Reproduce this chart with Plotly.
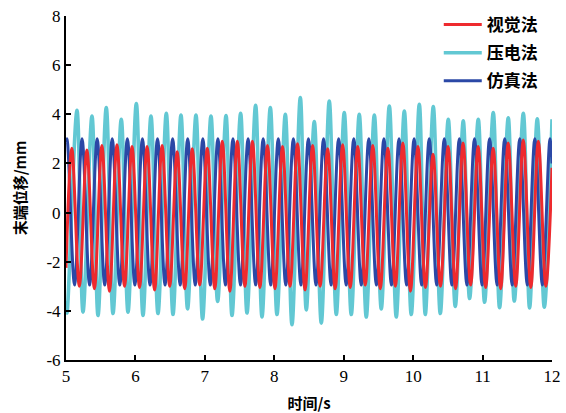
import plotly.graph_objects as go

# ---------------- data ----------------
# 仿真法 (simulation): extreme points (peaks/troughs) of the curve
sim_t = [5.000, 5.014, 5.123, 5.231, 5.340, 5.449, 5.558, 5.666, 5.775, 5.884, 5.992,
         6.101, 6.210, 6.318, 6.427, 6.536, 6.645, 6.753, 6.862, 6.971, 7.079,
         7.188, 7.297, 7.405, 7.514, 7.623, 7.732, 7.840, 7.949, 8.058, 8.166,
         8.275, 8.384, 8.492, 8.601, 8.710, 8.819, 8.927, 9.036, 9.145, 9.253,
         9.362, 9.471, 9.579, 9.688, 9.797, 9.906, 10.014, 10.123, 10.232, 10.340,
         10.449, 10.558, 10.666, 10.775, 10.884, 10.993, 11.101, 11.210, 11.319, 11.427,
         11.536, 11.645, 11.753, 11.862, 11.971, 12.000]
sim_y = [2.85] + [3.0, -2.95] * 32 + [3.0, 2.0]

# 视觉法 (vision): extreme points
vis_t = [5.000, 5.084, 5.192, 5.301, 5.409, 5.517, 5.626, 5.734, 5.843, 5.951, 6.059,
         6.168, 6.276, 6.384, 6.493, 6.601, 6.710, 6.818, 6.926, 7.035, 7.143,
         7.251, 7.360, 7.468, 7.577, 7.685, 7.793, 7.902, 8.010, 8.118, 8.227,
         8.335, 8.443, 8.552, 8.660, 8.769, 8.877, 8.985, 9.094, 9.202, 9.310,
         9.419, 9.527, 9.636, 9.744, 9.852, 9.961, 10.069, 10.177, 10.286, 10.394,
         10.503, 10.611, 10.719, 10.828, 10.936, 11.044, 11.153, 11.261, 11.369, 11.478,
         11.586, 11.695, 11.803, 11.911, 12.000]
vis_peaks = [2.62, 2.55, 2.73, 2.76, 2.69, 2.69, 2.73, 2.48, 2.60, 2.62, 2.90,
             2.90, 2.90, 2.73, 2.69, 2.80, 2.73, 2.60, 2.76, 2.69, 2.73, 2.62,
             2.83, 2.69, 2.37, 2.69, 2.83, 2.69, 2.62, 2.83, 2.95, 2.90]
vis_troughs = [-3.00, -3.10, -3.20, -3.00, -3.05, -3.15, -3.00, -3.10, -2.95, -3.10, -3.20,
               -3.00, -3.05, -3.10, -3.00, -3.15, -3.00, -3.10, -3.05, -2.95, -3.10, -3.00,
               -3.20, -3.05, -3.00, -3.10, -2.95, -3.05, -3.10, -3.00, -3.05, -3.00]
vis_start = -2.25
vis_end = 1.82

# 压电法 (piezoelectric): extreme points
pz_trough_t = [5.014, 5.245, 5.461, 5.677, 5.893, 6.109, 6.325, 6.541, 6.751, 6.967, 7.184,
               7.391, 7.607, 7.823, 8.039, 8.255, 8.461, 8.677, 8.893, 9.109, 9.325,
               9.541, 9.757, 9.973, 10.175, 10.391, 10.607, 10.813, 11.029, 11.245, 11.457,
               11.677, 11.889]
pz_trough_y = [-4.09, -4.05, -4.19, -4.11, -4.05, -4.19, -4.11, -4.15, -3.92, -4.33, -3.62,
               -4.19, -4.09, -4.25, -4.15, -4.56, -3.96, -4.50, -4.15, -4.15, -4.25,
               -3.92, -4.25, -4.15, -4.15, -4.11, -3.82, -3.50, -3.65, -3.87, -3.60,
               -3.88, -3.85]
pz_peak_t = [5.158, 5.374, 5.580, 5.796, 6.013, 6.224, 6.445, 6.656, 6.872, 7.088, 7.305,
             7.515, 7.731, 7.943, 8.159, 8.375, 8.576, 8.792, 9.008, 9.224, 9.441,
             9.657, 9.873, 10.089, 10.290, 10.506, 10.722, 10.938, 11.154, 11.370, 11.587,
             11.788]
pz_peak_y = [4.16, 3.93, 4.27, 3.80, 4.44, 3.93, 4.04, 3.97, 3.97, 3.93, 3.95,
             4.04, 4.37, 4.27, 4.00, 4.68, 3.70, 4.54, 4.07, 4.00, 3.97,
             4.34, 4.13, 4.41, 4.31, 3.80, 3.73, 3.80, 4.07, 3.86, 4.04,
             3.82]
pz_start = -3.6
pz_end = 3.8

x_ticks = [5, 6, 7, 8, 9, 10, 11, 12]
x_tick_text = ["5", "6", "7", "8", "9", "10", "11", "12"]
y_ticks = [-6, -4, -2, 0, 2, 4, 6, 8]
y_tick_text = ["-6", "-4", "-2", "0", "2", "4", "6", "8"]

names = ["视觉法", "压电法", "仿真法"]
colors = {"视觉法": "#EE2A2E", "压电法": "#62C8D3", "仿真法": "#2B48A6"}

# ------------- assemble series from the extreme points -------------
vis_y = [vis_start]
for p, tr in zip(vis_peaks, vis_troughs):
    vis_y += [p, tr]
vis_y.append(vis_end)

pz_t = [5.000]
pz_y = [pz_start]
for i in range(len(pz_trough_t)):
    pz_t.append(pz_trough_t[i]); pz_y.append(pz_trough_y[i])
    if i < len(pz_peak_t):
        pz_t.append(pz_peak_t[i]); pz_y.append(pz_peak_y[i])
pz_t.append(12.000); pz_y.append(pz_end)

fig = go.Figure()
fig.add_trace(go.Scatter(x=pz_t, y=pz_y, name=names[1], mode="lines",
                         line=dict(color=colors[names[1]], width=3.6, shape="spline", smoothing=1),
                         legendrank=2, legendgroup="b"))
fig.add_trace(go.Scatter(x=sim_t, y=sim_y, name=names[2], mode="lines",
                         line=dict(color=colors[names[2]], width=3, shape="spline", smoothing=1),
                         legendrank=3, legendgroup="c"))
fig.add_trace(go.Scatter(x=vis_t, y=vis_y, name=names[0], mode="lines",
                         line=dict(color=colors[names[0]], width=3, shape="spline", smoothing=1),
                         legendrank=1, legendgroup="a"))

tick_font = dict(family="Liberation Serif", size=17, color="black")
title_font = dict(family="Noto Sans CJK SC", size=15, color="black")

fig.update_layout(
    width=566, height=413,
    margin=dict(l=66, r=14, t=16, b=53, autoexpand=False),
    paper_bgcolor="white", plot_bgcolor="white",
    showlegend=True,
    legend=dict(x=0.767, y=1.026, xanchor="left", yanchor="top",
                bgcolor="rgba(255,255,255,0)", borderwidth=0,
                font=dict(family="Noto Sans CJK SC", size=17, color="black", weight="bold"),
                tracegroupgap=3, itemwidth=38),
    xaxis=dict(range=[5, 12], tickmode="array", tickvals=x_ticks, ticktext=x_tick_text,
               ticks="inside", ticklen=5, tickwidth=1.5, tickcolor="black",
               showline=True, linecolor="black", linewidth=2, showgrid=False, zeroline=False,
               tickfont=tick_font, automargin=False,
               title=dict(text="<b>时间/s</b>", font=title_font, standoff=19)),
    yaxis=dict(range=[-6, 8], tickmode="array", tickvals=y_ticks, ticktext=y_tick_text,
               ticks="inside", ticklen=5, tickwidth=1.5, tickcolor="black",
               showline=True, linecolor="black", linewidth=2, showgrid=False, zeroline=False,
               tickfont=tick_font, automargin=False,
               title=dict(text="<b>末端位移/mm</b>", font=title_font, standoff=16)),
)

# remove the browser's default 8px body margin so the figure fills the window exactly
fig.write_html("out.html",
               config={"displayModeBar": False},
               post_script="document.body.style.margin='0';document.body.style.overflow='hidden';")
